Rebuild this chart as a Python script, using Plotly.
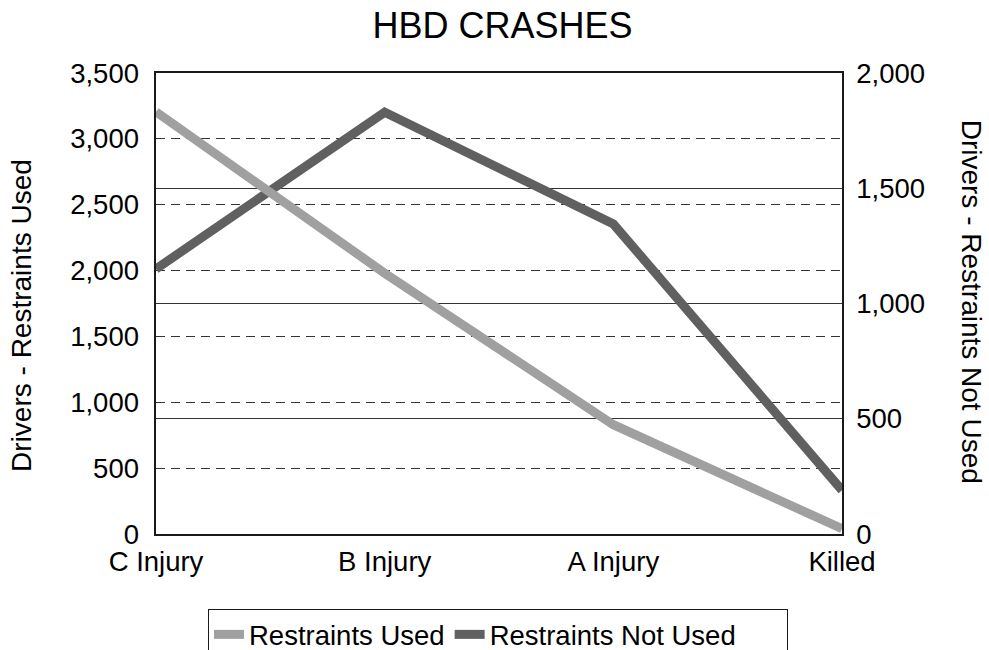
import plotly.graph_objects as go

categories = ["C Injury", "B Injury", "A Injury", "Killed"]
restraints_used = [3205, 1980, 830, 40]
restraints_not_used = [1150, 1830, 1345, 190]
left_ticks = [0, 500, 1000, 1500, 2000, 2500, 3000, 3500]
right_ticks = [0, 500, 1000, 1500, 2000]

FONT = "Liberation Sans, Arial, Helvetica, sans-serif"
W, H = 989, 650
L, R, T, B = 156, 147, 73, 116
pw, ph = W - L - R, H - T - B

fig = go.Figure()
fig.add_trace(go.Scatter(
    x=categories, y=restraints_not_used,
    name="Restraints Not Used\u00a0\u00a0\u00a0\u00a0\u00a0\u00a0",
    mode="lines", line=dict(color="#606060", width=9), yaxis="y",
    cliponaxis=False, legendrank=2))
fig.add_trace(go.Scatter(
    x=categories, y=restraints_used, name="Restraints Used",
    mode="lines", line=dict(color="#a0a0a0", width=9), yaxis="y2",
    cliponaxis=False, legendrank=1))

def px_x(p):
    return (p - L) / pw

def px_y(p):
    return (H - B - p) / ph

fig.update_layout(
    width=W, height=H,
    margin=dict(l=L, r=R, t=T, b=B, pad=0, autoexpand=False),
    paper_bgcolor="white", plot_bgcolor="white",
    font=dict(family=FONT, size=27.5, color="black"),
    title=dict(text="HBD CRASHES", font=dict(family=FONT, size=36, color="black"),
               x=502.5 / W, xref="container", xanchor="center",
               y=1 - 25.5 / H, yref="container", yanchor="middle"),
    xaxis=dict(type="category", range=[0, 3], showgrid=False, zeroline=False,
               showline=True, linecolor="#1a1a1a", linewidth=1.5, mirror=True,
               ticks="", ticklabelstandoff=2, automargin=False,
               tickfont=dict(family=FONT, size=27.5, color="black")),
    yaxis=dict(side="right", range=[0, 2000], tickvals=right_ticks,
               tickformat=",", showgrid=True, gridcolor="#333333", gridwidth=1,
               zeroline=False, showline=True, linecolor="#1a1a1a", linewidth=1.5,
               mirror=True, ticks="", ticklabelstandoff=7, automargin=False,
               tickfont=dict(family=FONT, size=27.5, color="black")),
    yaxis2=dict(side="left", overlaying="y", range=[0, 3500], tickvals=left_ticks,
                tickformat=",", showgrid=True, gridcolor="#333333", gridwidth=1,
                griddash="9px,6px", zeroline=False, showline=False,
                ticks="", ticklabelstandoff=16, automargin=False,
                tickfont=dict(family=FONT, size=27.5, color="black")),
    showlegend=True,
    legend=dict(orientation="h", xref="container", yref="container",
                x=208 / W, xanchor="left",
                y=1 - 609 / H, yanchor="top",
                bordercolor="#1a1a1a", borderwidth=1, bgcolor="white",
                font=dict(family=FONT, size=27.5, color="black"),
                itemwidth=30, tracegroupgap=0),
    annotations=[
        dict(text="Drivers - Restraints Used", xref="paper", yref="paper",
             x=px_x(22), y=px_y(315.9), xanchor="center", yanchor="middle",
             textangle=-90, showarrow=False,
             font=dict(family=FONT, size=28, color="black")),
        dict(text="Drivers - Restraints Not Used", xref="paper", yref="paper",
             x=px_x(971.7), y=px_y(301.4), xanchor="center", yanchor="middle",
             textangle=90, showarrow=False,
             font=dict(family=FONT, size=28, color="black")),
    ],
)

fig.write_html("out.html", config={"displayModeBar": False},
               post_script="document.body.style.margin='0px';document.body.style.overflow='hidden';")
